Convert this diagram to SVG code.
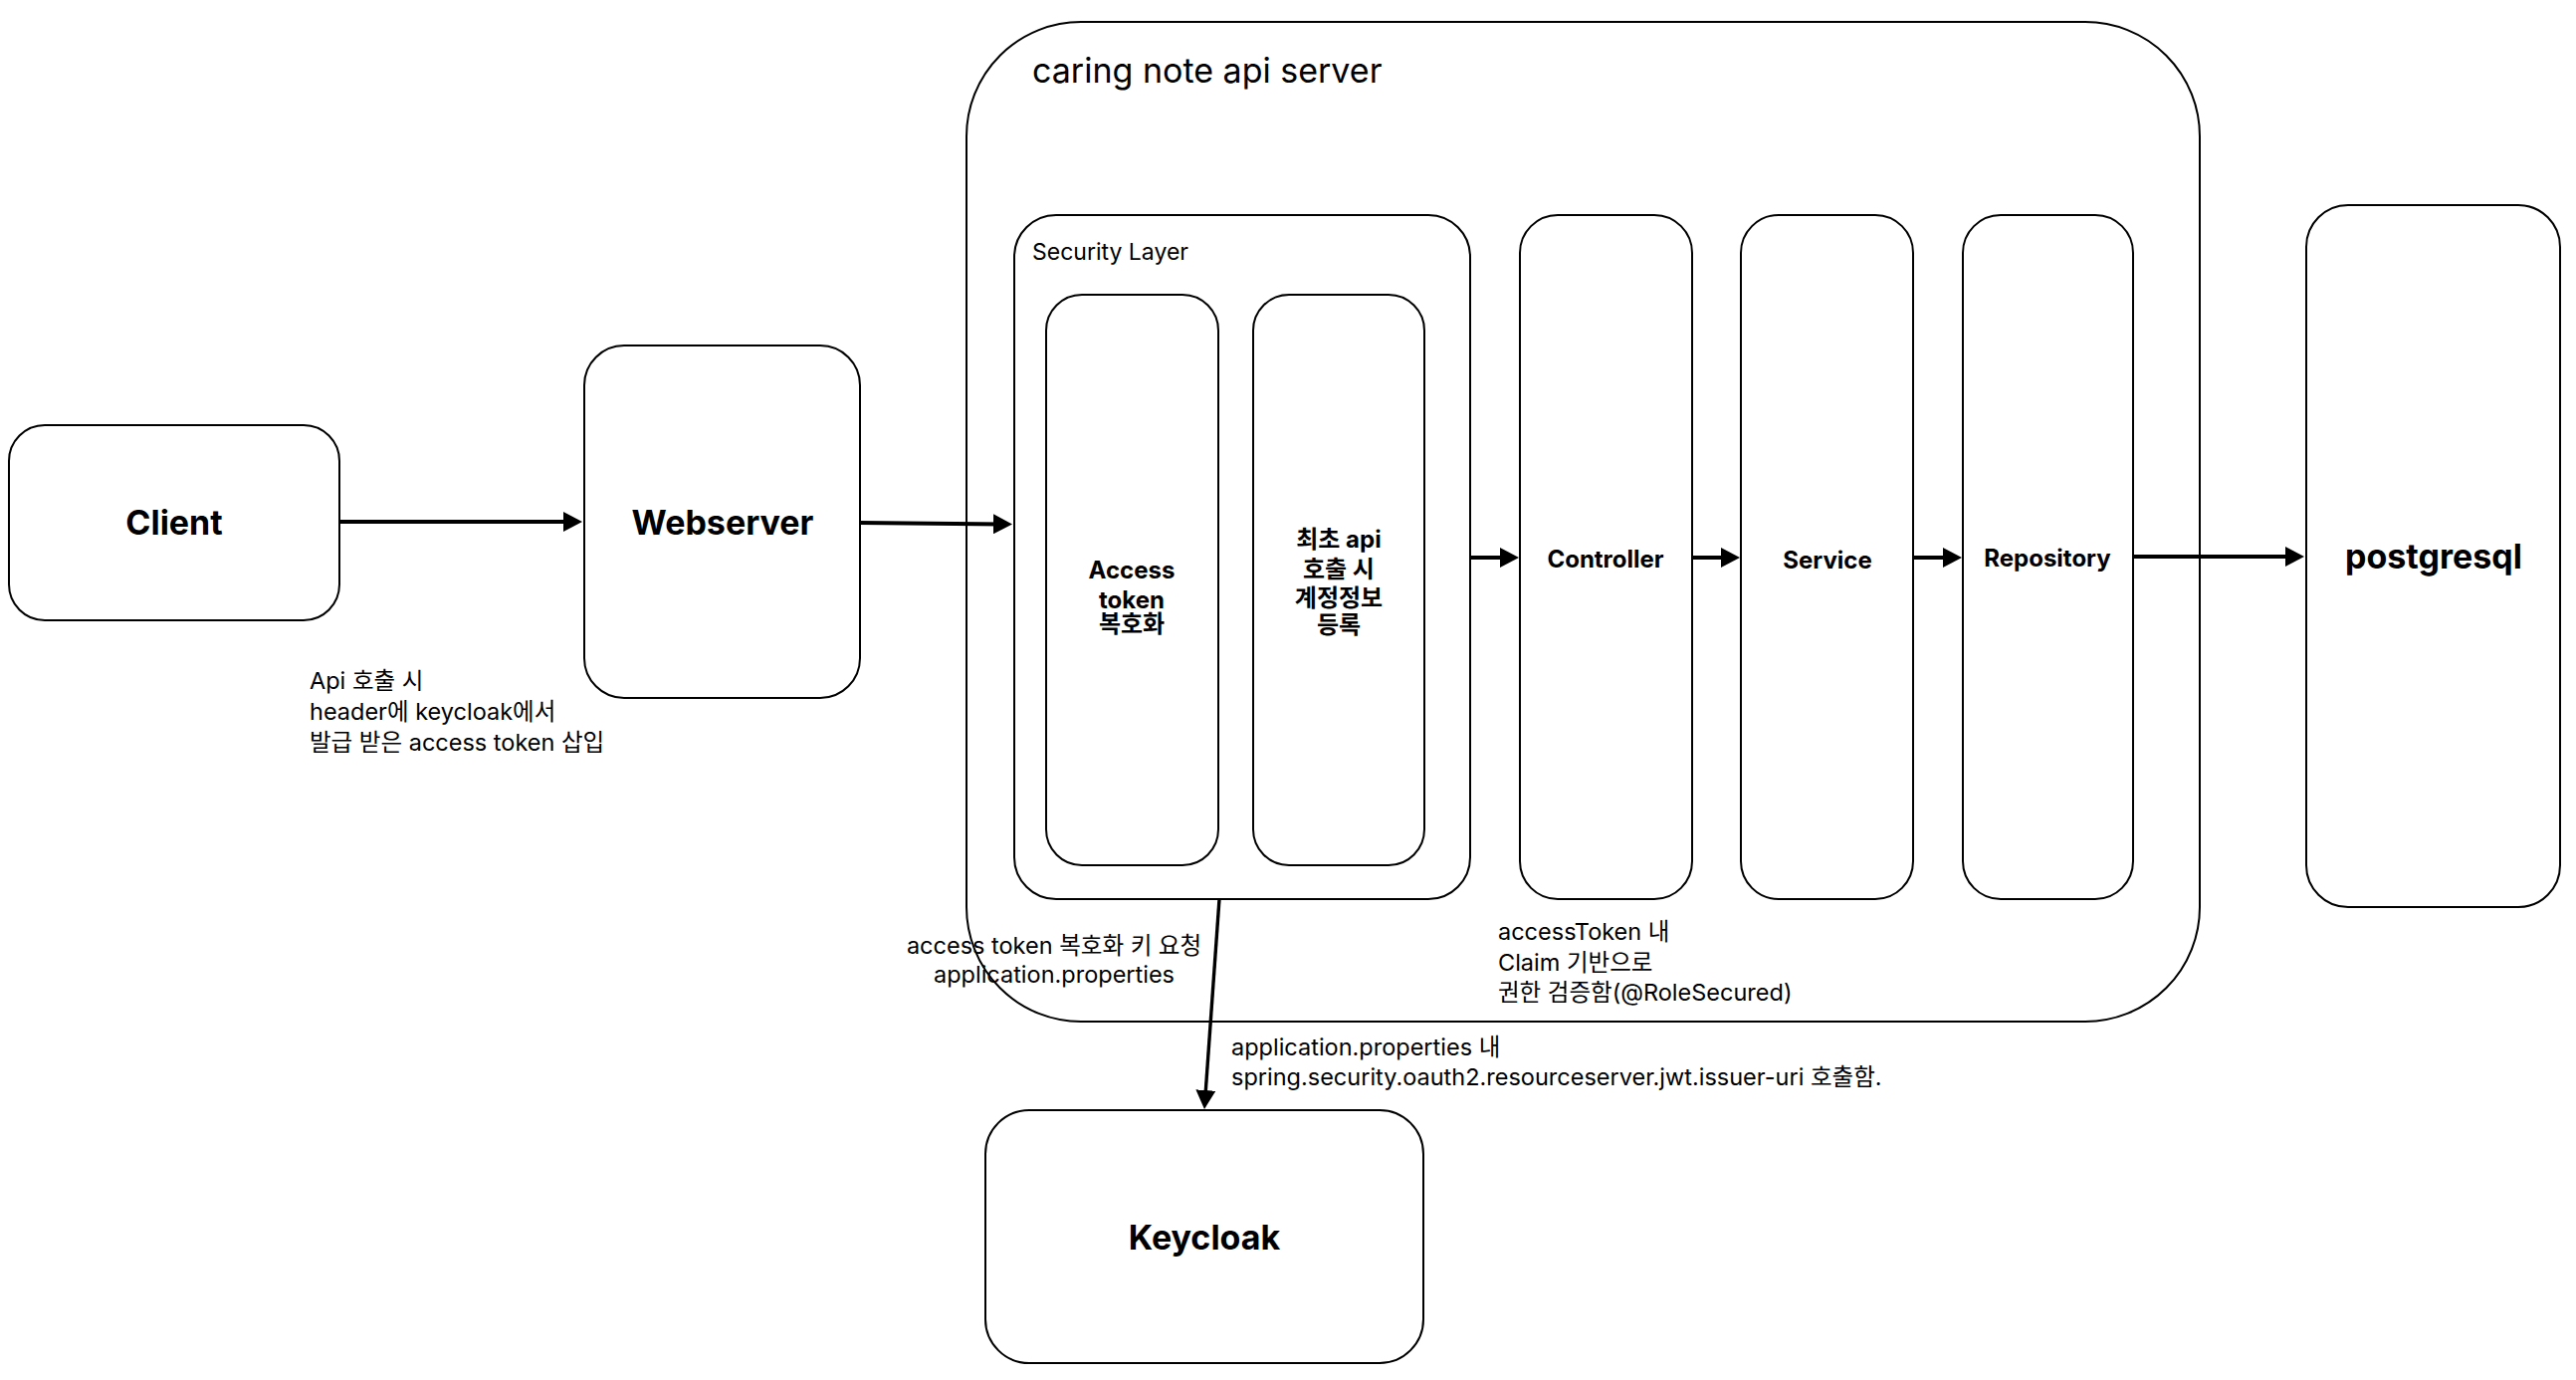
<svg xmlns="http://www.w3.org/2000/svg" width="2588" height="1386" viewBox="0 0 2588 1386">
  <style>
    .box { fill: #ffffff; stroke: #000000; stroke-width: 2; }
    .t { font-family: 'Inter', 'Noto Sans CJK KR', sans-serif; fill: #000000; }
    .title { font-size: 34px; font-weight: bold; text-anchor: middle; }
    .mid { font-size: 24px; font-weight: bold; text-anchor: middle; }
    .lbl { font-size: 23.5px; }
    .c { text-anchor: middle; }
    .big { font-size: 34px; }
    .sec { font-size: 23px; }
    .conn { stroke: #000000; stroke-width: 4; fill: none; }
    .conn2 { stroke: #000000; stroke-width: 3.4; fill: none; }
  </style>
  <defs>
    <marker id="arrow" viewBox="0 0 19 20" refX="9" refY="10" markerWidth="19" markerHeight="20" markerUnits="userSpaceOnUse" orient="auto">
      <path d="M0,0 L19,10 L0,20 z" fill="#000000"/>
    </marker>
  </defs>
  <rect width="2588" height="1386" fill="#ffffff"/>

  <g id="api-server">
    <rect class="box" x="971" y="22" width="1239" height="1004" rx="115" ry="115"/>
    <text class="t big" x="1037" y="83">caring note api server</text>
  </g>

  <g id="security-layer">
    <rect class="box" x="1019" y="216" width="458" height="687" rx="42" ry="42"/>
    <text class="t sec" x="1037" y="261">Security Layer</text>
  </g>

  <g id="access-token">
    <rect class="box" x="1051" y="296" width="173" height="573" rx="36" ry="36"/>
    <text class="t mid" x="1137" y="581">Access</text>
    <text class="t mid" x="1137" y="611">token</text>
    <text class="t mid" x="1137" y="635">복호화</text>
  </g>

  <g id="first-call">
    <rect class="box" x="1259" y="296" width="172" height="573" rx="36" ry="36"/>
    <text class="t mid" x="1345" y="550">최초 api</text>
    <text class="t mid" x="1345" y="580">호출 시</text>
    <text class="t mid" x="1345" y="609">계정정보</text>
    <text class="t mid" x="1345" y="636">등록</text>
  </g>

  <g id="client">
    <rect class="box" x="9" y="427" width="332" height="196" rx="36" ry="36"/>
    <text class="t title" x="175" y="537">Client</text>
  </g>

  <g id="webserver">
    <rect class="box" x="587" y="347" width="277" height="354" rx="40" ry="40"/>
    <text class="t title" x="726" y="537">Webserver</text>
  </g>

  <g id="controller">
    <rect class="box" x="1527" y="216" width="173" height="687" rx="38" ry="38"/>
    <text class="t mid" x="1613" y="570">Controller</text>
  </g>

  <g id="service">
    <rect class="box" x="1749" y="216" width="173" height="687" rx="38" ry="38"/>
    <text class="t mid" x="1836" y="571">Service</text>
  </g>

  <g id="repository">
    <rect class="box" x="1972" y="216" width="171" height="687" rx="38" ry="38"/>
    <text class="t mid" x="2057" y="569">Repository</text>
  </g>

  <g id="postgresql">
    <rect class="box" x="2317" y="206" width="255" height="705" rx="42" ry="42"/>
    <text class="t title" x="2445" y="571">postgresql</text>
  </g>

  <g id="keycloak">
    <rect class="box" x="990" y="1115" width="440" height="254" rx="44" ry="44"/>
    <text class="t title" x="1210" y="1255">Keycloak</text>
  </g>

  <g id="notes">
    <text class="t lbl" x="311" y="692">Api 호출 시</text>
    <text class="t lbl" x="311" y="723">header에 keycloak에서</text>
    <text class="t lbl" x="311" y="754">발급 받은 access token 삽입</text>

    <text class="t lbl c" x="1059" y="958">access token 복호화 키 요청</text>
    <text class="t lbl c" x="1059" y="987">application.properties</text>

    <text class="t lbl" x="1505" y="944">accessToken 내</text>
    <text class="t lbl" x="1505" y="975">Claim 기반으로</text>
    <text class="t lbl" x="1505" y="1005">권한 검증함(@RoleSecured)</text>

    <text class="t lbl" x="1237" y="1060">application.properties 내</text>
    <text class="t lbl" x="1237" y="1090">spring.security.oauth2.resourceserver.jwt.issuer-uri 호출함.</text>
  </g>

  <g id="connectors">
    <line class="conn" x1="341" y1="524" x2="575" y2="524" marker-end="url(#arrow)"/>
    <line class="conn" x1="864" y1="525" x2="1007" y2="526.4" marker-end="url(#arrow)"/>
    <line class="conn" x1="1477" y1="560" x2="1516" y2="560" marker-end="url(#arrow)"/>
    <line class="conn" x1="1700" y1="560" x2="1738" y2="560" marker-end="url(#arrow)"/>
    <line class="conn" x1="1922" y1="560" x2="1961" y2="560" marker-end="url(#arrow)"/>
    <line class="conn" x1="2143" y1="559" x2="2305" y2="559" marker-end="url(#arrow)"/>
    <line class="conn2" x1="1225" y1="903" x2="1210.7" y2="1104" marker-end="url(#arrow)"/>
  </g>
</svg>
